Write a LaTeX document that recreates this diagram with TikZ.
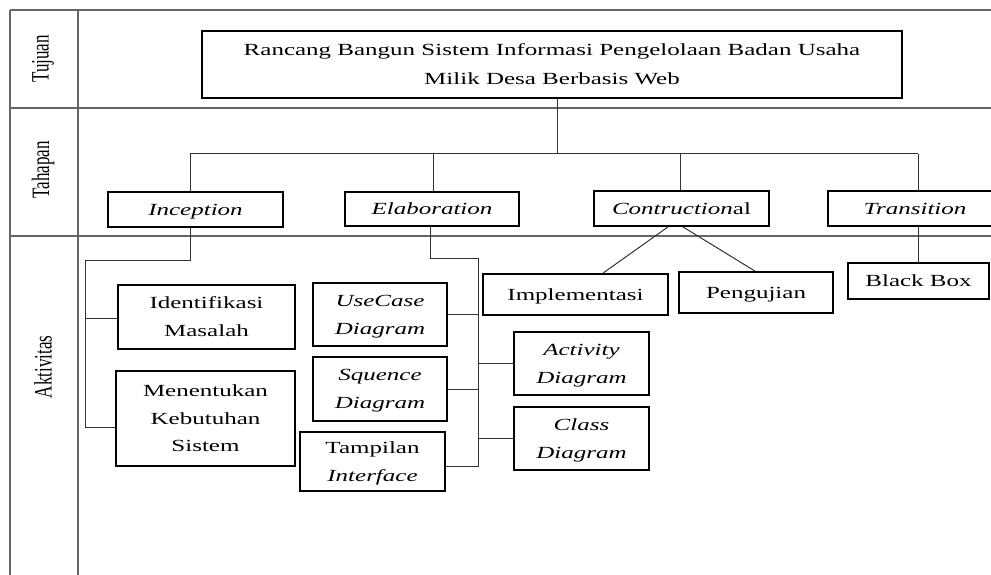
\documentclass[tikz,border=0pt]{standalone}
\usepackage{fontspec}
\setmainfont{Liberation Serif}
% text set at 25pt and flattened vertically, as in the original layout
\newcommand\flattext[2][41]{\scalebox{1}[0.68]{\fontsize{25}{#1}\selectfont\begin{tabular}{@{}c@{}}#2\end{tabular}}}
\newcommand\sidelabel[1]{\scalebox{1}[0.68]{\rotatebox{90}{\fontsize{25}{30}\selectfont #1}}}
\begin{document}
\begin{tikzpicture}[x=1pt,y=-1pt,
  box/.style={draw=black, line width=1.8pt, inner sep=0pt, fill=white},
  link/.style={draw=black!80, line width=1pt},
  rule/.style={draw=black!60, line width=1.6pt},
  ]
\useasboundingbox (0,0) rectangle (991,575);
\clip (0,0) rectangle (991,575);

% table frame
\draw[rule] (10,10) -- (991,10);
\draw[rule] (10,108) -- (991,108);
\draw[rule] (10,236) -- (991,236);
\draw[rule] (10,10) -- (10,575);
\draw[rule] (78,10) -- (78,575);

% row labels
\node (lt) at (43,59) {\sidelabel{Tujuan}};
\node (lh) at (43,170) {\sidelabel{Tahapan}};
\node (la) at (43,367) {\sidelabel{Aktivitas}};

% goal
\node[box, minimum width=700pt, minimum height=67pt] (title) at (552,64.5)
  {\flattext[42]{Rancang Bangun Sistem Informasi Pengelolaan Badan Usaha\\ Milik Desa Berbasis Web}};

% phases
\node[box, minimum width=175pt, minimum height=35pt] (inc) at (195.5,209.5) {\flattext{\textit{Inception}}};
\node[box, minimum width=174pt, minimum height=34pt] (ela) at (432,209) {\flattext{\textit{Elaboration}}};
\node[box, minimum width=175pt, minimum height=35pt] (con) at (681.5,208.5) {\flattext{\textit{Contruction}al}};
\node[box, minimum width=174pt, minimum height=35pt] (tra) at (915,208.5) {\flattext{\textit{Transition}}};

% activities
\node[box, minimum width=177pt, minimum height=64pt] (idm) at (206.5,317) {\flattext{Identifikasi\\ Masalah}};
\node[box, minimum width=179pt, minimum height=95pt] (mks) at (205.5,418.5) {\flattext{Menentukan\\ Kebutuhan\\ Sistem}};
\node[box, minimum width=134pt, minimum height=63pt] (uc) at (380,314.5) {\flattext{\textit{UseCase}\\ \textit{Diagram}}};
\node[box, minimum width=134pt, minimum height=64pt] (sq) at (380,389) {\flattext{\textit{Squence}\\ \textit{Diagram}}};
\node[box, minimum width=145pt, minimum height=59pt] (ti) at (372.5,461.5) {\flattext{Tampilan\\ \textit{Interface}}};
\node[box, minimum width=135pt, minimum height=63pt] (act) at (581.5,363.5) {\flattext{\textit{Activity}\\ \textit{Diagram}}};
\node[box, minimum width=135pt, minimum height=63pt] (cls) at (581.5,438.5) {\flattext{\textit{Class}\\ \textit{Diagram}}};
\node[box, minimum width=185pt, minimum height=41pt] (imp) at (575.5,294.5) {\flattext{Implementasi}};
\node[box, minimum width=154pt, minimum height=41pt] (pgj) at (756,292.5) {\flattext{Pengujian}};
\node[box, minimum width=141pt, minimum height=36pt] (bb) at (918.5,281) {\flattext{Black Box}};

% goal to phases
\coordinate (bus) at (557,154);
\coordinate (b1) at (190,154);
\coordinate (b2) at (433,154);
\coordinate (b3) at (680,154);
\coordinate (b4) at (918,154);
\draw[link] ([xshift=5pt]title.south) -- (bus);
\draw[link] (b1) -- (b4);
\draw[link] (b1) -- (b1 |- inc.north);
\draw[link] (b2) -- (b2 |- ela.north);
\draw[link] (b3) -- (b3 |- con.north);
\draw[link] (b4) -- (b4 |- tra.north);

% inception branch
\coordinate (i1) at (190,260);
\coordinate (i2) at (85,260);
\coordinate (i3) at (85,427);
\coordinate (i4) at (85,318);
\draw[link] (inc.south -| i1) -- (i1) -- (i2) -- (i3) -- (i3 -| mks.west);
\draw[link] (i4) -- (i4 -| idm.west);

% elaboration branch
\coordinate (e1) at (430,258);
\coordinate (e2) at (478,258);
\coordinate (e3) at (478,466);
\draw[link] (ela.south -| e1) -- (e1) -- (e2) -- (e3) -- (e3 -| ti.east);
\draw[link] (uc.east) -- (uc.east -| e2);
\draw[link] (sq.east) -- (sq.east -| e2);
\draw[link] (act.west -| e2) -- (act.west);
\draw[link] (cls.west -| e2) -- (cls.west);

% construction and transition
\draw[link] ([xshift=-13.5pt]con.south) -- ([xshift=27.5pt]imp.north);
\draw[link] ([xshift=1.5pt]con.south) -- ([xshift=-1pt]pgj.north);
\draw[link] (tra.south -| b4) -- (bb.north -| b4);
\end{tikzpicture}
\end{document}
